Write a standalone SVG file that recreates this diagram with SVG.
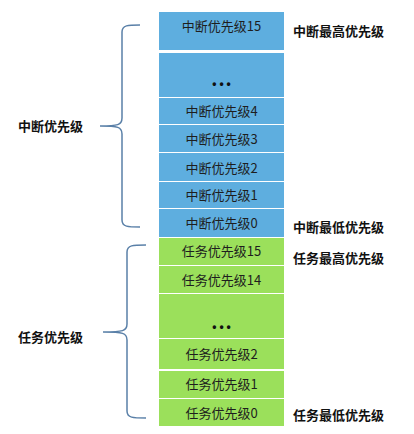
<svg xmlns="http://www.w3.org/2000/svg" width="414" height="434" viewBox="0 0 414 434">
<style>
.b{fill:#5eaedf}
.g{fill:#9be05b}
.t{font-family:"Noto Sans CJK SC","Liberation Sans",sans-serif;font-size:13px;fill:#1e1e1e;text-anchor:middle;dominant-baseline:central}
.d{font-family:"Liberation Sans",sans-serif;font-size:12px;font-weight:bold;fill:#111;text-anchor:middle;letter-spacing:3px}
.l{font-family:"Noto Sans CJK SC","Liberation Sans",sans-serif;font-size:13px;font-weight:bold;fill:#111;dominant-baseline:central}
.br{fill:none;stroke:#5a80a8;stroke-width:1.5}
</style>
<rect width="414" height="434" fill="#fff"/>
<g id="irq15"><rect class="b" x="159" y="12" width="125" height="38"/><text class="t" x="221.5" y="25">中断优先级15</text></g>
<g id="irqdots"><rect class="b" x="159" y="53" width="125" height="44"/><text class="d" x="223" y="88">•••</text></g>
<g id="irq4"><rect class="b" x="159" y="98" width="125" height="26"/><text class="t" x="221.5" y="110">中断优先级4</text></g>
<g id="irq3"><rect class="b" x="159" y="125" width="125" height="27"/><text class="t" x="221.5" y="138">中断优先级3</text></g>
<g id="irq2"><rect class="b" x="159" y="153" width="125" height="28"/><text class="t" x="221.5" y="167">中断优先级2</text></g>
<g id="irq1"><rect class="b" x="159" y="182" width="125" height="26"/><text class="t" x="221.5" y="194">中断优先级1</text></g>
<g id="irq0"><rect class="b" x="159" y="209" width="125" height="28"/><text class="t" x="221.5" y="222">中断优先级0</text></g>
<g id="task15"><rect class="g" x="159" y="238" width="125" height="27"/><text class="t" x="221.5" y="250">任务优先级15</text></g>
<g id="task14"><rect class="g" x="159" y="266" width="125" height="27"/><text class="t" x="221.5" y="279">任务优先级14</text></g>
<g id="taskdots"><rect class="g" x="159" y="294" width="125" height="44"/><text class="d" x="223" y="331">•••</text></g>
<g id="task2"><rect class="g" x="159" y="339" width="125" height="30"/><text class="t" x="221.5" y="353">任务优先级2</text></g>
<g id="task1"><rect class="g" x="159" y="371" width="125" height="27"/><text class="t" x="221.5" y="383">任务优先级1</text></g>
<g id="task0"><rect class="g" x="159" y="399" width="125" height="27"/><text class="t" x="221.5" y="412">任务优先级0</text></g>
<g id="labels">
<text class="l" x="293" y="30">中断最高优先级</text>
<text class="l" x="293" y="226">中断最低优先级</text>
<text class="l" x="293" y="257">任务最高优先级</text>
<text class="l" x="293" y="414">任务最低优先级</text>
<text class="l" x="18" y="125">中断优先级</text>
<text class="l" x="18" y="336">任务优先级</text>
</g>
<g id="connectors">
<path class="br" d="M140,25 C128,25 122,25 122,32 L122,118 C122,125 118,126 100,126 C118,126 122,127 122,134 L122,220 C122,227 128,227 140,227"/>
<path class="br" d="M146,245 C133,245 127,245 127,252 L127,324 C127,331 123,332 103,332 C123,332 127,333 127,340 L127,411 C127,418 133,418 146,418"/>
</g>
</svg>
